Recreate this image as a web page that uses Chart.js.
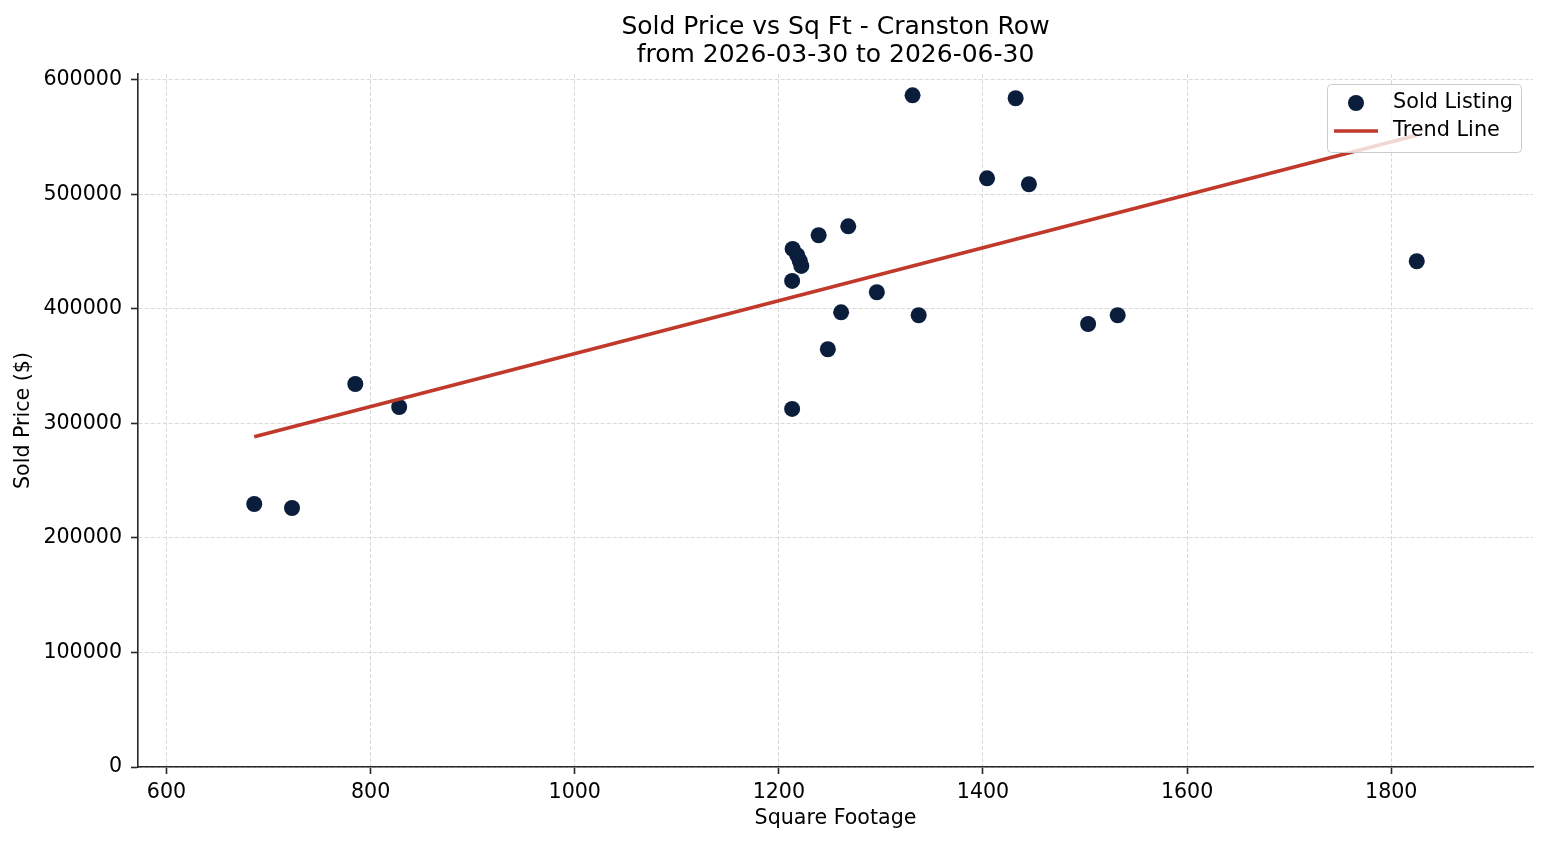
<!DOCTYPE html>
<html>
<head>
<meta charset="utf-8">
<title>Sold Price vs Sq Ft - Cranston Row</title>
<script src="https://cdn.jsdelivr.net/npm/chart.js@4.4.1/dist/chart.umd.min.js"></script>
<style>
    html, body { margin: 0; padding: 0; background: #ffffff; }
    #wrap { width: 1547px; height: 845px; }
</style>
</head>
<body>
<div id="wrap"><canvas id="chart" width="1547" height="845"></canvas></div>
<script>
/* ############ */
/* ### Data ### */
/* ############ */

const TITLE_LINES = ['Sold Price vs Sq Ft - Cranston Row', 'from 2026-03-30 to 2026-06-30'];

// Sold listings (square footage, sold price)
const sqft = [686, 723, 785, 828, 1213, 1213, 1213.5, 1218, 1220.5, 1222, 1239, 1268, 1261, 1248,
    1296, 1337, 1331, 1432, 1404, 1445, 1503, 1532, 1825];
const price = [229700, 226200, 334500, 314400, 312700, 424500, 452400, 447000, 442000, 437600, 464400, 472200, 397100, 364800,
    414600, 394500, 586600, 584000, 514100, 508900, 386900, 394500, 441700];

// Trend line end points
const trendX = [686, 1825];
const trendY = [288400, 551700];

// Axes
const xTicks = [600, 800, 1000, 1200, 1400, 1600, 1800];
const yTicks = [0, 100000, 200000, 300000, 400000, 500000, 600000];
const X_MIN = 572.1;
const X_MAX = 1938.9;
const Y_MIN = 0;
const Y_MAX = 605200;

/* ############## */
/* ### Styles ### */
/* ############## */

const FONT = 'DejaVu Sans';
const NAVY = '#0a1e3c';
const RED = '#c0392b';
const GRID = '#d9d9d9';
const AXIS = '#262626';
const TEXT_SIZE = 20.6;

/* ############### */
/* ### Legend  ### */
/* ############### */

// matplotlib style legend inside the axes, drawn above the data
const insideLegend = {
    id: 'insideLegend',
    afterDatasetsDraw(chart) {
        const ctx = chart.ctx;
        const area = chart.chartArea;
        const w = 194, h = 68;
        const x = area.right - 12 - w;
        const y = area.top + 10;

        ctx.save();
        ctx.beginPath();
        ctx.roundRect(x + 0.5, y + 0.5, w, h, 4);
        ctx.fillStyle = 'rgba(255,255,255,0.8)';
        ctx.fill();
        ctx.strokeStyle = '#cccccc';
        ctx.lineWidth = 1;
        ctx.stroke();

        const sets = chart.data.datasets;
        const row1 = y + 19, row2 = y + 47;

        // scatter marker
        ctx.beginPath();
        ctx.arc(x + 29, row1, 8, 0, Math.PI * 2);
        ctx.fillStyle = NAVY;
        ctx.fill();

        // line marker
        ctx.beginPath();
        ctx.moveTo(x + 7, row2);
        ctx.lineTo(x + 51, row2);
        ctx.strokeStyle = RED;
        ctx.lineWidth = 3.6;
        ctx.stroke();

        ctx.fillStyle = '#000000';
        ctx.font = '20.8px "' + FONT + '"';
        ctx.textAlign = 'left';
        ctx.textBaseline = 'middle';
        ctx.fillText(sets[1].label, x + 66, row1);
        ctx.fillText(sets[0].label, x + 66, row2);
        ctx.restore();
    }
};

/* ############# */
/* ### Chart ### */
/* ############# */

const points = sqft.map((v, i) => ({ x: v, y: price[i] }));
const trend = trendX.map((v, i) => ({ x: v, y: trendY[i] }));

Chart.defaults.font.family = FONT;
Chart.defaults.color = '#000000';

new Chart(document.getElementById('chart').getContext('2d'), {
    type: 'scatter',
    data: {
        datasets: [{
                type: 'line',
                label: 'Trend Line',
                data: trend,
                borderColor: RED,
                borderWidth: 3.6,
                pointRadius: 0,
                fill: false,
                order: 0
            },
            {
                label: 'Sold Listing',
                data: points,
                backgroundColor: NAVY,
                borderColor: NAVY,
                borderWidth: 0,
                pointRadius: 8,
                pointHoverRadius: 8,
                order: 1
            }
        ]
    },
    options: {
        responsive: false,
        animation: false,
        layout: {
            padding: { left: 0, right: 14, top: 0, bottom: 0 }
        },
        plugins: {
            legend: { display: false },
            tooltip: { enabled: false },
            title: {
                display: true,
                fullSize: false,
                text: TITLE_LINES,
                color: '#000000',
                font: { size: 25, weight: 'normal', lineHeight: 1.12 },
                padding: { top: 13, bottom: 5 }
            }
        },
        scales: {
            x: {
                type: 'linear',
                min: X_MIN,
                max: X_MAX,
                afterBuildTicks: scale => {
                    scale.ticks = xTicks.map(v => ({ value: v }));
                },
                afterFit: scale => {
                    scale.height = 78;
                },
                ticks: {
                    color: '#000000',
                    font: { size: TEXT_SIZE },
                    padding: 6,
                    maxRotation: 0,
                    callback: v => String(v)
                },
                grid: {
                    color: GRID,
                    lineWidth: 1,
                    drawTicks: true,
                    tickLength: 7,
                    tickColor: AXIS,
                    tickWidth: 1.6
                },
                border: {
                    display: true,
                    color: AXIS,
                    width: 1.6,
                    dash: [4, 2]
                },
                title: {
                    display: true,
                    text: 'Square Footage',
                    color: '#000000',
                    font: { size: TEXT_SIZE },
                    padding: { top: 0, bottom: 14 }
                }
            },
            y: {
                type: 'linear',
                min: Y_MIN,
                max: Y_MAX,
                afterBuildTicks: scale => {
                    scale.ticks = yTicks.map(v => ({ value: v }));
                },
                afterFit: scale => {
                    scale.width = 138;
                },
                ticks: {
                    color: '#000000',
                    font: { size: TEXT_SIZE },
                    padding: 9,
                    callback: v => String(v)
                },
                grid: {
                    color: GRID,
                    lineWidth: 1,
                    drawTicks: true,
                    tickLength: 7,
                    tickColor: AXIS,
                    tickWidth: 1.6
                },
                border: {
                    display: true,
                    color: AXIS,
                    width: 1.6,
                    dash: [4, 2]
                },
                title: {
                    display: true,
                    text: 'Sold Price ($)',
                    color: '#000000',
                    font: { size: TEXT_SIZE },
                    padding: { top: 11, bottom: 0 }
                }
            }
        }
    },
    plugins: [insideLegend]
});
</script>
</body>
</html>
